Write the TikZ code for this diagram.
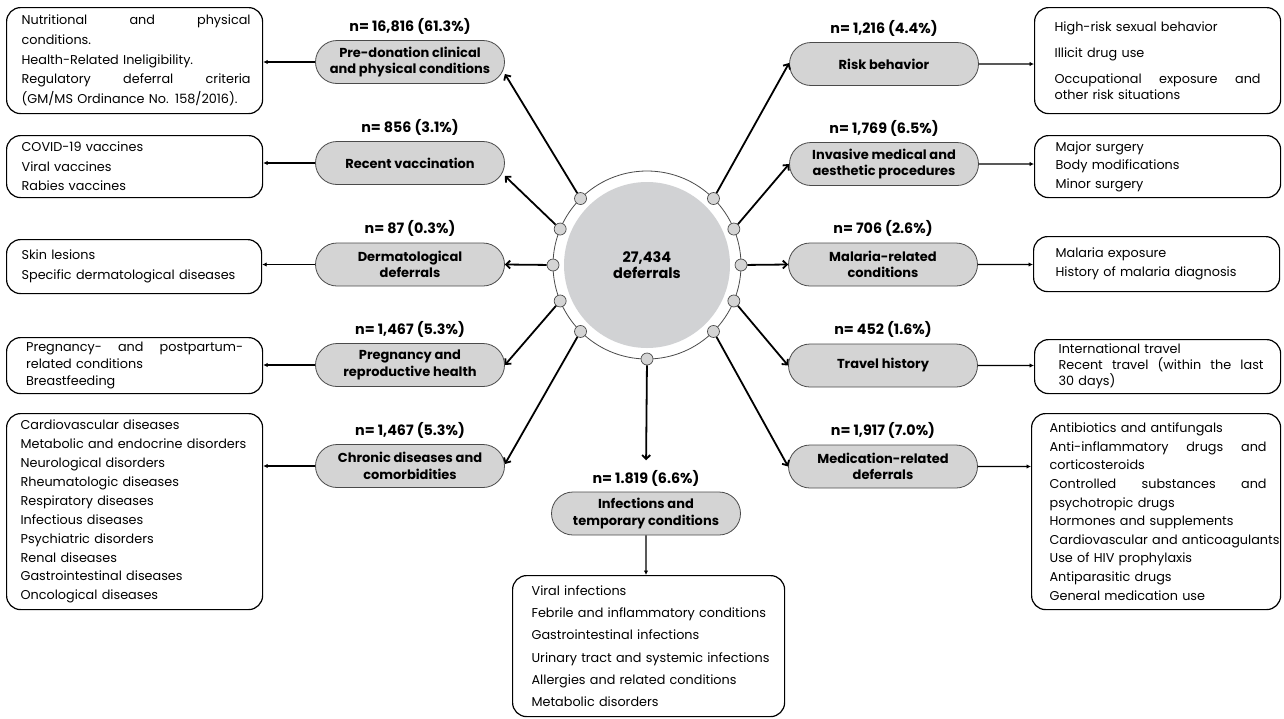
\documentclass[tikz,border=0pt]{standalone}
\usepackage{fontspec}
\setmainfont{Poppins}
\usetikzlibrary{shapes.misc,arrows.meta}
\definecolor{pillgray}{HTML}{D4D4D4}
\definecolor{coregray}{HTML}{D1D2D4}
\definecolor{edgegray}{HTML}{4A4A4A}
\newcommand\pillfont{\fontsize{13}{16.5}\selectfont\bfseries}
\newcommand\countfont{\fontsize{14.3}{16}\selectfont\bfseries}
\newcommand\bx[1]{\fontsize{12.8}{#1}\selectfont}
\tikzset{
  pill/.style={rounded rectangle, draw=edgegray, fill=pillgray, line width=0.8pt,
    minimum width=189pt, minimum height=43pt, inner sep=0pt, align=center, font=\pillfont},
  countlbl/.style={font=\countfont, inner sep=0pt, anchor=base},
  infobox/.style={draw=black, line width=1.2pt, rounded corners=14pt, anchor=north west,
    inner ysep=0pt},
  lskip/.style={execute at begin node={\leftskip=#1pt\relax}},
  dotnode/.style={circle, draw=edgegray, fill=pillgray, line width=0.7pt, minimum size=12pt, inner sep=0pt},
  thick arrow/.style={line width=1.8pt, -{Straight Barb[length=4pt,width=8pt]}},
  thin arrow/.style={line width=1.1pt, -{Latex[length=4.5pt,width=4.5pt]}},
}
\begin{document}
\begin{tikzpicture}[x=1pt,y=-1pt]
\useasboundingbox (0,0) rectangle (1284,718);

% centre
\node[circle, draw=edgegray, line width=0.8pt, minimum size=188pt, inner sep=0pt] (ring) at (647,265) {};
\node[circle, fill=coregray, minimum size=166pt, inner sep=0pt, align=center,
      font=\fontsize{14.5}{16.5}\selectfont\bfseries] (core) at (647,265) {27,434\\deferrals};

\foreach \a/\n in {45/c45, 22.5/c22, 0/c0, -22.5/cm22, -45/cm45, -90/cm90, -135/cm135, -157.5/cm157, 180/c180, 157.5/c157, 135/c135}
  \node[dotnode] (\n) at ([shift={(\a:94pt)}]647,265) {};

% pills
\node[pill] (pre)   at (410,62)    {Pre-donation clinical\\and physical conditions};
\node[pill] (vac)   at (410,163)   {Recent vaccination};
\node[pill] (derm)  at (410,264.5) {Dermatological\\deferrals};
\node[pill] (preg)  at (410,365)   {Pregnancy and\\reproductive health};
\node[pill] (chron) at (410,466)   {Chronic diseases and\\comorbidities};
\node[pill] (risk)  at (884,64)    {Risk behavior};
\node[pill] (inv)   at (884,164)   {Invasive medical and\\aesthetic procedures};
\node[pill] (mal)   at (883,264.5) {Malaria-related\\conditions};
\node[pill] (trav)  at (883,365.5) {Travel history};
\node[pill] (med)   at (883,466.5) {Medication-related\\deferrals};
\node[pill] (inf)   at (646,513.5) {Infections and\\temporary conditions};

% counts
\node[countlbl] (npre)   at ([yshift=9pt]pre.north)   {n= 16,816 (61.3\%)};
\node[countlbl] (nvac)   at ([yshift=9pt]vac.north)   {n= 856 (3.1\%)};
\node[countlbl] (nderm)  at ([yshift=9pt]derm.north)  {n= 87 (0.3\%)};
\node[countlbl] (npreg)  at ([yshift=9pt]preg.north)  {n= 1,467 (5.3\%)};
\node[countlbl] (nchron) at ([yshift=9pt]chron.north) {n= 1,467 (5.3\%)};
\node[countlbl] (nrisk)  at ([yshift=9pt]risk.north)  {n= 1,216 (4.4\%)};
\node[countlbl] (ninv)   at ([yshift=9pt]inv.north)   {n= 1,769 (6.5\%)};
\node[countlbl] (nmal)   at ([yshift=9pt]mal.north)   {n= 706 (2.6\%)};
\node[countlbl] (ntrav)  at ([yshift=9pt]trav.north)  {n= 452 (1.6\%)};
\node[countlbl] (nmed)   at ([yshift=9pt]med.north)   {n= 1,917 (7.0\%)};
\node[countlbl] (ninf)   at ([yshift=8pt]inf.north)   {n= 1.819 (6.6\%)};

% left boxes
\node[infobox, minimum width=256pt, minimum height=106pt, inner xsep=12pt, text width=232pt, lskip=3,
      font=\bx{19.7}] (b1) at (6,7)
 {Nutritional\hfill and\hfill physical\\conditions.\\Health-Related Ineligibility.\\Regulatory\hfill deferral\hfill criteria\\(GM/MS Ordinance No. 158/2016).};
\node[infobox, minimum width=256pt, minimum height=62pt, inner xsep=12pt, text width=232pt, lskip=3,
      font=\bx{19.5}] (b2) at (6,135)
 {COVID-19 vaccines\\Viral vaccines\\Rabies vaccines};
\node[infobox, minimum width=255pt, minimum height=54pt, inner xsep=12pt, text width=231pt, lskip=3,
      font=\bx{20}] (b3) at (6,239)
 {Skin lesions\\Specific dermatological diseases};
\node[infobox, minimum width=256pt, minimum height=56pt, inner xsep=16pt, text width=217pt, lskip=0,
      font=\bx{17}] (b4) at (6,337)
 {Pregnancy-\hfill and\hfill postpartum-\\related conditions\\Breastfeeding};
\node[infobox, minimum width=256pt, minimum height=196pt, inner xsep=4pt, text width=248pt, lskip=10,
      font=\bx{18.9}] (b5) at (6,413)
 {Cardiovascular diseases\\Metabolic and endocrine disorders\\Neurological disorders\\Rheumatologic diseases\\Respiratory diseases\\Infectious diseases\\Psychiatric disorders\\Renal diseases\\Gastrointestinal diseases\\Oncological diseases};

% right boxes
\node[infobox, minimum width=246pt, minimum height=106pt, inner xsep=19pt, text width=206pt, lskip=0,
      font=\bx{16}] (r1) at (1034,7)
 {High-risk sexual behavior\\[10pt]Illicit drug use\\[10pt]Occupational\hfill exposure\hfill and\\other risk situations};
\node[infobox, minimum width=246pt, minimum height=62pt, inner xsep=21pt, text width=204pt, lskip=0,
      font=\bx{18.5}] (r2) at (1034,135)
 {Major surgery\\Body modifications\\Minor surgery};
\node[infobox, minimum width=246pt, minimum height=55pt, inner xsep=22pt, text width=202pt, lskip=0,
      font=\bx{19}] (r3) at (1033,236)
 {Malaria exposure\\History of malaria diagnosis};
\node[infobox, minimum width=246pt, minimum height=54pt, inner xsep=17pt, text width=212pt, lskip=7,
      font=\bx{16}] (r4) at (1034,339)
 {International travel\\Recent\hfill travel\hfill (within\hfill the\hfill last\\30 days)};
\node[infobox, minimum width=249pt, minimum height=196pt, inner xsep=14pt, text width=221pt, lskip=4,
      font=\bx{18.6}] (r5) at (1031,413)
 {Antibiotics and antifungals\\Anti-inflammatory\hfill drugs\hfill and\\corticosteroids\\Controlled\hfill substances\hfill and\\psychotropic drugs\\Hormones and supplements\\\makebox[\linewidth][l]{Cardiovascular and anticoagulants}\\Use of HIV prophylaxis\\Antiparasitic drugs\\General medication use};

% bottom box
\node[infobox, minimum width=272pt, minimum height=141pt, inner xsep=6pt, text width=260pt, lskip=13,
      font=\bx{22.2}] (bi) at (512,575)
 {Viral infections\\Febrile and inflammatory conditions\\Gastrointestinal infections\\Urinary tract and systemic infections\\Allergies and related conditions\\Metabolic disorders};

% thick connectors from centre
\draw[thick arrow] (c135) -- ([yshift=-12pt]pre.east);
\draw[thick arrow] (c157) -- ([yshift=-13pt]vac.east);
\draw[thick arrow] (c180) -- (derm.east);
\draw[thick arrow] (cm157) -- (preg.east);
\draw[thick arrow] (cm135) -- ([yshift=2pt]chron.east);
\draw[thick arrow, shorten >=10pt] (cm90) -- (ninf.north);
\draw[thick arrow] (c45) -- ([yshift=1pt]risk.west);
\draw[thick arrow] (c22) -- (inv.west);
\draw[thick arrow] (c0) -- (mal.west);
\draw[thick arrow] (cm22) -- (trav.west);
\draw[thick arrow] (cm45) -- (med.west);

% thin connectors to detail boxes
\draw[thin arrow] (pre) -- (pre -| b1.east);
\draw[thin arrow] (vac) -- (vac -| b2.east);
\draw[thin arrow] (derm) -- (derm -| b3.east);
\draw[thin arrow] (preg) -- (preg -| b4.east);
\draw[thin arrow] (chron) -- (chron -| b5.east);
\draw[thin arrow] (risk) -- (risk -| r1.west);
\draw[thin arrow] (inv) -- (inv -| r2.west);
\draw[thin arrow] (mal) -- (mal -| r3.west);
\draw[thin arrow] (trav) -- (trav -| r4.west);
\draw[thin arrow] (med) -- (med -| r5.west);
\draw[thin arrow] (inf) -- (inf |- bi.north);
\end{tikzpicture}
\end{document}
